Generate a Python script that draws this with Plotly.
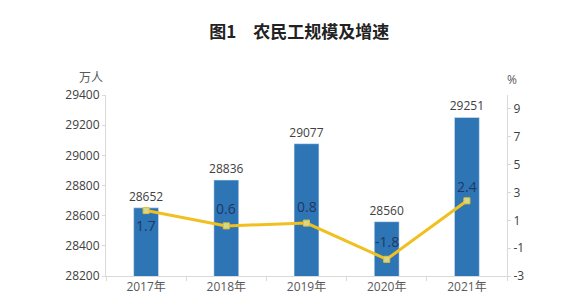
import plotly.graph_objects as go

years = ["2017年", "2018年", "2019年", "2020年", "2021年"]
workers = [28652, 28836, 29077, 28560, 29251]
growth = [1.7, 0.6, 0.8, -1.8, 2.4]
growth_label_shift = [-15, 17, 17, 18, 14]

left_ticks = [28200, 28400, 28600, 28800, 29000, 29200, 29400]
right_ticks = [-3, -1, 1, 3, 5, 7, 9]

FONT = "Open Sans, Noto Sans CJK SC, sans-serif"

fig = go.Figure()
fig.add_trace(go.Bar(
    x=years, y=workers, width=0.31, marker_color="#2E75B6",
    text=[str(v) for v in workers], textposition="outside", constraintext="none",
    textfont=dict(size=12, color="#404040", family=FONT),
    cliponaxis=False, yaxis="y", showlegend=False,
))
fig.add_trace(go.Scatter(
    x=years, y=growth, yaxis="y2", mode="lines+markers",
    line=dict(color="#F0C020", width=3),
    marker=dict(symbol="square", size=6, color="#D4D88A", line=dict(color="#E8C030", width=1)),
    cliponaxis=False, showlegend=False,
))
for yr, g, s in zip(years, growth, growth_label_shift):
    fig.add_annotation(x=yr, y=g, xref="x", yref="y2", text=f"{g:.1f}", showarrow=False,
                       yshift=s, font=dict(size=14, color="#1F3864", family=FONT))

fig.update_layout(
    width=571, height=307,
    margin=dict(l=106, r=64, t=95, b=29),
    paper_bgcolor="white", plot_bgcolor="white",
    font=dict(family=FONT, color="#404040", size=11),
    title=dict(text="<b>图1　农民工规模及增速</b>", x=0.524, xanchor="center", y=0.897, yanchor="middle",
               font=dict(size=17, color="#222222", family="Noto Sans CJK SC, sans-serif")),
    xaxis=dict(type="category", showline=True, linecolor="#D9D9D9", linewidth=1,
               ticks="outside", tickson="boundaries", ticklen=4, tickcolor="#D9D9D9",
               tickfont=dict(size=12, color="#595959"), showgrid=False),
    yaxis=dict(range=[28200, 29400], tickvals=left_ticks, ticktext=[str(v) for v in left_ticks],
               showline=True, linecolor="#D9D9D9",
               ticks="outside", ticklen=3, tickcolor="#D9D9D9", showgrid=False, zeroline=False,
               tickfont=dict(size=12, color="#404040")),
    yaxis2=dict(range=[-3, 10], tickvals=right_ticks, ticktext=[str(v) for v in right_ticks],
                overlaying="y", side="right",
                showline=True, linecolor="#D9D9D9", ticks="outside", ticklen=3, tickcolor="#D9D9D9",
                showgrid=False, zeroline=False, tickfont=dict(size=12, color="#404040")),
)

# unit labels placed by pixel position, converted to paper coords
pw = 571 - 106 - 64
ph = 307 - 95 - 29
for txt, px, py in [("万人", 91, 77), ("%", 512, 79)]:
    fig.add_annotation(text=txt, x=(px - 106) / pw, y=(307 - 29 - py) / ph,
                       xref="paper", yref="paper", xanchor="center", yanchor="middle",
                       showarrow=False, font=dict(size=12, color="#595959"))

fig.write_html("out.html")
